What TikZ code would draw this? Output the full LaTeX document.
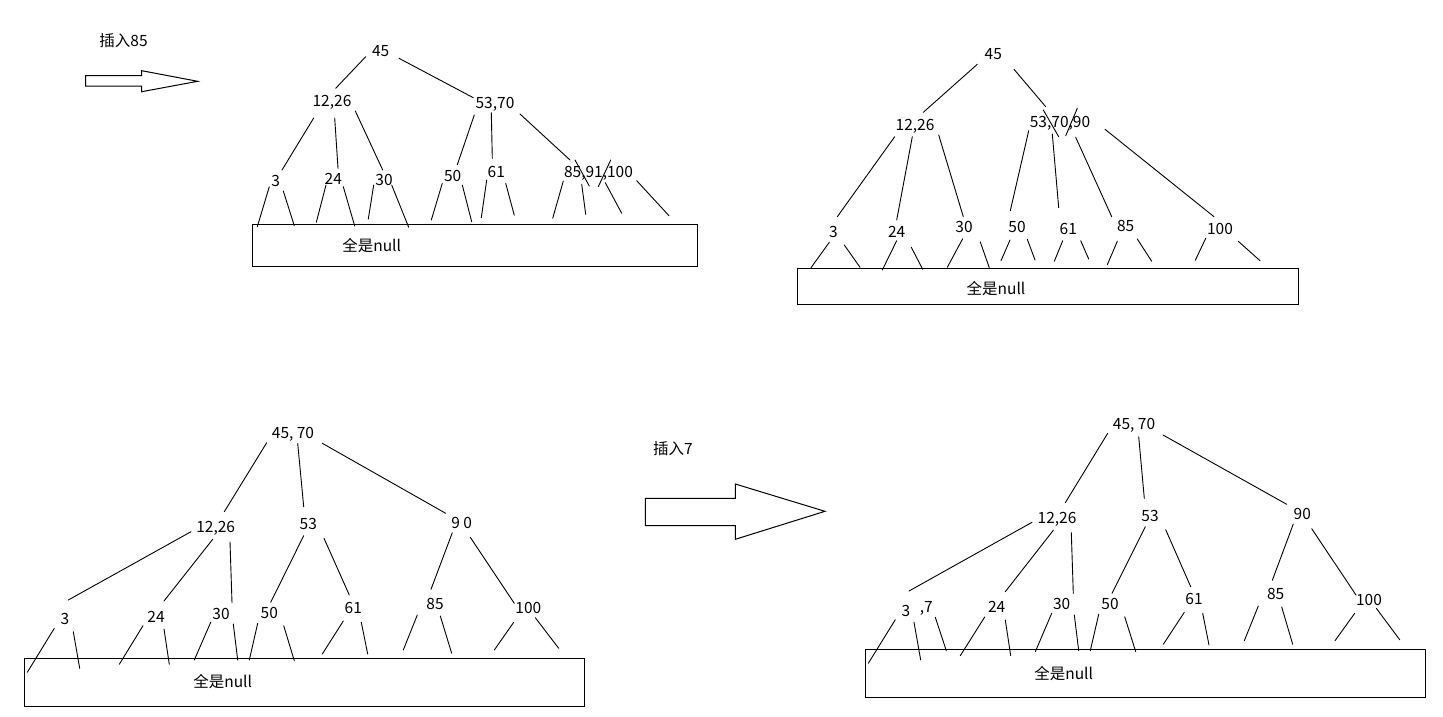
\documentclass[tikz,border=0pt]{standalone}
\usepackage{fontspec}
\setmainfont{Noto Sans CJK SC}
\begin{document}
\begin{tikzpicture}[x=1pt,y=-1pt,
  lbl/.style={inner sep=0pt,font=\fontsize{15.5}{17}\selectfont},
  seg/.style={line width=0.9pt,line cap=round},
  nullbox/.style={draw,line width=1pt},
  bigarrow/.style={draw,line width=1pt,line join=miter}]
\useasboundingbox (0,0) rectangle (1443,716);

% ---------- step arrow: insert 85 ----------
\node[lbl] (ins85) at (123.5,40.7) {插入85};
\draw[bigarrow] (85.7,75.7) -- (141.7,75.7) -- (141.7,70.7) -- (197.7,81.3)
  -- (141.7,91.7) -- (141.7,86) -- (85.7,86) -- cycle;

% ---------- tree 1: 85 goes into the leaf 85,91,100 ----------
\node[lbl] (a45) at (380.7,50.7) {45};
\node[lbl] (a1226) at (332,102.5) {12,26};
\node[lbl] (a5370) at (495,104) {53,70};
\node[lbl] (a3) at (275.7,180.7) {3};
\node[lbl] (a24) at (333.3,179) {24};
\node[lbl] (a30) at (384,180) {30};
\node[lbl] (a50) at (452.7,175.7) {50};
\node[lbl] (a61) at (496.3,171.7) {61};
\node[lbl] (a85) at (598.5,173.5) {85,91,100};
\draw[nullbox] (252.3,224.3) rectangle (697.3,266);
\node[lbl] (anull) at (371.7,246) {全是null};
\draw[seg] (365.7,56.7) -- (335.7,88.3);
\draw[seg] (399,58.3) -- (473.3,97.7);
\draw[seg] (313.7,118) -- (282,170);
\draw[seg] (334.7,118) -- (338,168.3);
\draw[seg] (355.3,111) -- (382.7,170);
\draw[seg] (474.3,115) -- (457.3,164.7);
\draw[seg] (491.3,112.7) -- (492.3,158.3);
\draw[seg] (520,114) -- (570,160);
\draw[seg] (575,160) -- (589.3,186);
\draw[seg] (610.7,160) -- (598.3,186.7);
\draw[seg] (269.3,186.7) -- (257.3,226.7);
\draw[seg] (283.3,191) -- (294.3,225.7);
\draw[seg] (326,185) -- (316.3,222.3);
\draw[seg] (343.3,186.7) -- (354.7,226);
\draw[seg] (373.7,185) -- (368.3,219);
\draw[seg] (391.7,185) -- (408.7,227.3);
\draw[seg] (442.3,183.3) -- (431.3,220);
\draw[seg] (462.3,185) -- (471.7,221.7);
\draw[seg] (486.7,180) -- (481.3,217.7);
\draw[seg] (505.7,183.3) -- (514.3,215.3);
\draw[seg] (563.3,181) -- (552.7,218.3);
\draw[seg] (581.7,184.3) -- (585.7,214.3);
\draw[seg] (605.3,182.7) -- (621.7,213.3);
\draw[seg] (636.7,180.7) -- (669,215.7);

% ---------- tree 2: leaf split, 90 moves up ----------
\node[lbl] (b45) at (993.3,54.3) {45};
\node[lbl] (b1226) at (915,126.8) {12,26};
\node[lbl] (b537090) at (1060,123.5) {53,70,90};
\node[lbl] (b3) at (833.3,231.7) {3};
\node[lbl] (b24) at (896.7,232.3) {24};
\node[lbl] (b30) at (964,226.7) {30};
\node[lbl] (b50) at (1017,226.7) {50};
\node[lbl] (b61) at (1068.3,229) {61};
\node[lbl] (b85) at (1125.7,225.7) {85};
\node[lbl] (b100) at (1220,228.7) {100};
\draw[nullbox] (797.3,268.3) rectangle (1298.7,304.3);
\node[lbl] (bnull) at (996,289) {全是null};
\draw[seg] (977.3,64.3) -- (923.3,112.3);
\draw[seg] (1014,69.3) -- (1045.7,106.7);
\draw[seg] (1043.3,110) -- (1058.7,136.7);
\draw[seg] (1077.3,108.3) -- (1065.7,135.7);
\draw[seg] (894.7,136.7) -- (837.3,216.7);
\draw[seg] (912.3,136.7) -- (896.7,220);
\draw[seg] (938.7,135) -- (963.3,216.7);
\draw[seg] (1028.7,130.7) -- (1010.3,210.7);
\draw[seg] (1052.3,134) -- (1058.7,207.7);
\draw[seg] (1075.7,137.3) -- (1111.7,216.7);
\draw[seg] (1105,129.3) -- (1214,216.7);
\draw[seg] (829.3,242.3) -- (811,267.7);
\draw[seg] (844.3,245) -- (860,267.3);
\draw[seg] (896.7,240.7) -- (882.3,270);
\draw[seg] (911.3,247.3) -- (922.7,269.3);
\draw[seg] (962.7,238.7) -- (947.3,267.3);
\draw[seg] (980.3,242) -- (989.3,267.7);
\draw[seg] (1010,240) -- (1001,260.7);
\draw[seg] (1027.3,239.3) -- (1035,260);
\draw[seg] (1062.7,240.7) -- (1054.3,261.3);
\draw[seg] (1080.7,240.7) -- (1088.7,259);
\draw[seg] (1117.3,241.3) -- (1107.3,264.7);
\draw[seg] (1137.3,239) -- (1151.7,261.3);
\draw[seg] (1205.7,238.3) -- (1195.3,260.3);
\draw[seg] (1238.3,241.3) -- (1260,260.7);

% ---------- tree 3: 70 moves up into the root ----------
\node[lbl] (c4570) at (293,434.3) {45, 70};
\node[lbl] (c1226) at (215.7,528) {12,26};
\node[lbl] (c53) at (308.3,524.3) {53};
\node[lbl] (c90) at (461.7,523.3) {9 0};
\node[lbl] (c3) at (65,619) {3};
\node[lbl] (c24) at (156,616.7) {24};
\node[lbl] (c30) at (221,613.7) {30};
\node[lbl] (c50) at (269.3,613) {50};
\node[lbl] (c61) at (353.3,607.7) {61};
\node[lbl] (c85) at (435,603.7) {85};
\node[lbl] (c100) at (528.3,608.3) {100};
\draw[nullbox] (24,658.3) rectangle (584.3,706.7);
\node[lbl] (cnull) at (222.7,681.7) {全是null};
\draw[seg] (266.7,442.7) -- (224.3,511.7);
\draw[seg] (297.7,443.3) -- (303.7,506.7);
\draw[seg] (322.3,443.3) -- (445.7,513.3);
\draw[seg] (191,531.7) -- (68.3,600);
\draw[seg] (212.7,539.3) -- (164,601);
\draw[seg] (230,541.7) -- (232,602.7);
\draw[seg] (303.7,535.7) -- (270.7,602.3);
\draw[seg] (324,538.3) -- (349.3,595);
\draw[seg] (452.3,532.7) -- (431,589.3);
\draw[seg] (470.3,537.3) -- (514.3,603.3);
\draw[seg] (54.3,628.3) -- (27.3,672.3);
\draw[seg] (73.3,631.7) -- (79.7,668.3);
\draw[seg] (143,625.7) -- (119.3,664.3);
\draw[seg] (164,629) -- (169.3,664.3);
\draw[seg] (210.7,622.3) -- (194.3,660);
\draw[seg] (233.3,624) -- (237.7,660);
\draw[seg] (257.7,623.3) -- (249.3,660);
\draw[seg] (283.7,625.7) -- (294.3,660.7);
\draw[seg] (343.3,621) -- (322.3,654);
\draw[seg] (361.3,622.3) -- (367.7,654);
\draw[seg] (417.3,615) -- (403.3,650);
\draw[seg] (440.3,616) -- (451.7,653.3);
\draw[seg] (513.7,622.3) -- (494.3,650);
\draw[seg] (535.3,617.7) -- (558.7,648.3);

% ---------- step arrow: insert 7 ----------
\node[lbl] (ins7) at (673,449) {插入7};
\draw[bigarrow] (645.3,498.3) -- (735.3,498.3) -- (735.3,484) -- (825,511.3)
  -- (735.3,539.3) -- (735.3,525.7) -- (645.3,525.7) -- cycle;

% ---------- tree 4: 7 joins the leaf 3 ----------
\node[lbl] (d4570) at (1134,425.8) {45, 70};
\node[lbl] (d1226) at (1057,519) {12,26};
\node[lbl] (d53) at (1150,516) {53};
\node[lbl] (d90) at (1302.3,514) {90};
\node[lbl] (d3) at (906,610.7) {3};
\node[lbl] (d7) at (926.3,608.8) {,7};
\node[lbl] (d24) at (996.7,607.3) {24};
\node[lbl] (d30) at (1061.7,604.3) {30};
\node[lbl] (d50) at (1110,603.7) {50};
\node[lbl] (d61) at (1194,598.7) {61};
\node[lbl] (d85) at (1275.7,594.3) {85};
\node[lbl] (d100) at (1369,599.7) {100};
\draw[nullbox] (865.3,649) rectangle (1425,697.7);
\node[lbl] (dnull) at (1063.7,673.3) {全是null};
\draw[seg] (1107.7,433.3) -- (1065.3,502.7);
\draw[seg] (1138.7,436.7) -- (1144.3,498.3);
\draw[seg] (1163,435) -- (1286.7,504.3);
\draw[seg] (1032,522.3) -- (909,591);
\draw[seg] (1053.3,530.3) -- (1005.3,591.7);
\draw[seg] (1071.3,532.7) -- (1073.3,593.3);
\draw[seg] (1145.3,526.7) -- (1112,593.3);
\draw[seg] (1165.7,529.7) -- (1190.7,586.7);
\draw[seg] (1293.3,524) -- (1272.3,580.3);
\draw[seg] (1311.7,528.7) -- (1356,595);
\draw[seg] (895.3,619.7) -- (868.3,663.3);
\draw[seg] (914,622.3) -- (920.7,660);
\draw[seg] (935.3,617.3) -- (946.3,650.7);
\draw[seg] (984.7,617) -- (960.3,655.7);
\draw[seg] (1005.3,620) -- (1010.7,655.7);
\draw[seg] (1051.7,613.3) -- (1035.3,651.7);
\draw[seg] (1074.3,615) -- (1078.7,650.7);
\draw[seg] (1098.7,614.3) -- (1090.3,650.7);
\draw[seg] (1124.7,616.7) -- (1135.7,651.7);
\draw[seg] (1184.3,612.3) -- (1163.3,644.3);
\draw[seg] (1202.7,613.3) -- (1209,645);
\draw[seg] (1258.3,606) -- (1244.3,640.7);
\draw[seg] (1281.7,607) -- (1292.7,644.3);
\draw[seg] (1354.7,613.3) -- (1335,640.7);
\draw[seg] (1376.3,608.3) -- (1399.7,639.7);
\end{tikzpicture}
\end{document}
